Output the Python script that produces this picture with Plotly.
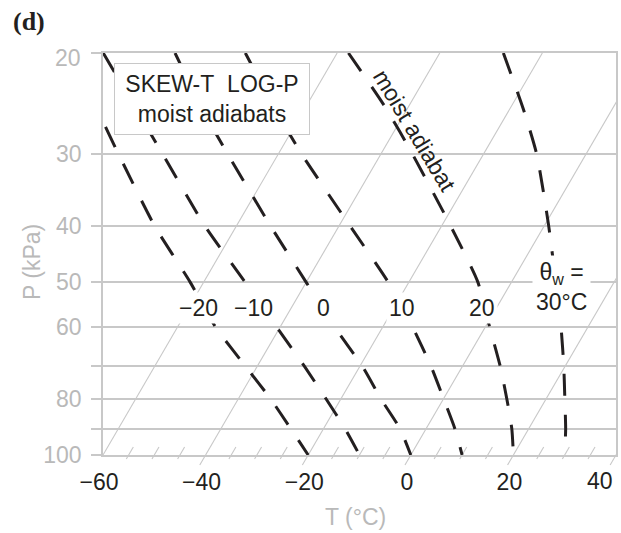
import numpy as np
import plotly.graph_objects as go

# Pressure levels (kPa) at which the moist adiabats are tabulated, top to bottom
P_LEVELS = [20, 25, 30, 40, 50, 60, 70, 80, 90, 100]

# Wet-bulb potential temperature of each moist adiabat (degC)
THETA_W = [-20, -10, 0, 10, 20, 30]

# Temperature (degC) along each moist adiabat at P_LEVELS
T_M20 = [-112.0, -100.5, -91.1, -75.9, -62.7, -52.5, -42.4, -33.6, -26.4, -20.0]
T_M10 = [-105.6, -92.9, -82.5, -66.1, -52.0, -40.6, -30.9, -22.8, -15.8, -10.0]
T_0 = [-91.6, -80.0, -69.8, -53.3, -40.1, -29.3, -19.6, -12.1, -5.1, 0.0]
T_10 = [-77.9, -65.8, -55.4, -37.8, -24.1, -14.1, -6.2, 0.1, 5.6, 10.0]
T_20 = [-57.8, -44.1, -33.8, -18.2, -6.6, 0.9, 7.3, 12.4, 16.7, 20.0]
T_30 = [-27.6, -17.4, -9.6, 0.9, 8.6, 14.8, 19.7, 23.7, 27.2, 30.0]
ADIABATS = [T_M20, T_M10, T_0, T_10, T_20, T_30]

# Isotherms and bottom-axis tick marks (degC)
ISOTHERMS = [-60, -40, -20, 0, 20, 40]
T_TICKTEXT = ["\u221260", "\u221240", "\u221220", "0", "20", ""]
MINOR_T = [t for t in range(-60, 41, 5) if t % 20 != 0]

# Isobars (kPa) and their labels
P_GRID = [20, 30, 40, 50, 60, 70, 80, 90, 100]
P_TICKTEXT = ["", "30", "40", "50", "60", "", "80", "", "100"]

# Skew of the temperature axis: degC shift per decade of pressure
SKEW = 65.3
P_BOTTOM, P_TOP = 100.0, 20.0

# Figure geometry
W, H = 621, 533
M_L, M_R, M_T, M_B = 103, 5, 53, 78
PLOT_W = W - M_L - M_R
PLOT_H = H - M_T - M_B

GRID = "#c8c8c8"
LABEL_GREY = "#b9b9b9"
INK = "#231f20"
FONT = "Arial, Liberation Sans, Helvetica, sans-serif"
FS = 23


def skew_x(t, p):
    """Horizontal coordinate of temperature t at pressure p on the skewed axis."""
    return np.asarray(t, float) + SKEW * np.log10(P_BOTTOM / np.asarray(p, float))


def px_to_paper(px, py):
    """Page pixel position -> paper coordinates of the plot area."""
    return (px - M_L) / PLOT_W, (PLOT_H - (py - M_T)) / PLOT_H


fig = go.Figure()

# Isotherms: straight gray lines slanting up to the right
for t in ISOTHERMS:
    fig.add_trace(go.Scatter(
        x=skew_x([t, t], [P_BOTTOM, P_TOP]), y=[P_BOTTOM, P_TOP],
        mode="lines", line=dict(color=GRID, width=1.1),
        hoverinfo="skip", showlegend=False))

# Moist adiabats, dashed
for tw, temps in zip(THETA_W, ADIABATS):
    fig.add_trace(go.Scatter(
        x=skew_x(temps, P_LEVELS), y=P_LEVELS,
        mode="lines", name=f"theta_w = {tw} C",
        line=dict(color=INK, width=3, dash="22px,19px", shape="spline", smoothing=0.6),
        showlegend=False))

# Slanted tick marks along the bottom axis
decades = np.log10(P_BOTTOM / P_TOP)
shapes = []
for t in ISOTHERMS:
    y0 = -10 / PLOT_H
    shapes.append(dict(type="line", xref="x", yref="paper",
                       x0=t + SKEW * decades * y0, y0=y0, x1=t, y1=0,
                       line=dict(color=GRID, width=1.1), layer="below"))
for t in MINOR_T:
    y0, y1 = -4 / PLOT_H, 8 / PLOT_H
    shapes.append(dict(type="line", xref="x", yref="paper",
                       x0=t + SKEW * decades * y0, y0=y0,
                       x1=t + SKEW * decades * y1, y1=y1,
                       line=dict(color=GRID, width=1.1), layer="below"))


def x_on(temps, p):
    """Skewed x of an adiabat at pressure p (interpolated in log-pressure)."""
    lp = np.log10(P_BOTTOM / np.array(P_LEVELS, float))[::-1]
    xs = skew_x(temps, P_LEVELS)[::-1]
    return float(np.interp(np.log10(P_BOTTOM / p), lp, xs))


annotations = []

# Adiabat labels
LABEL_P = 55.5
LABEL_SHIFT = [-6, -10, 1, 0, -3]
for tw, temps, dx in zip(THETA_W[:5], ADIABATS[:5], LABEL_SHIFT):
    txt = f"\u2212{abs(tw)}" if tw < 0 else str(tw)
    annotations.append(dict(
        x=x_on(temps, LABEL_P), y=np.log10(LABEL_P), xref="x", yref="y",
        text=txt, showarrow=False, xshift=dx,
        xanchor="center", yanchor="middle",
        font=dict(family=FONT, size=FS, color=INK),
        bgcolor="white", borderpad=2))

annotations.append(dict(
    x=x_on(T_30, 51.0), y=np.log10(51.0), xref="x", yref="y",
    text=f"\u03b8<sub>w</sub> =<br>{THETA_W[5]}\u00b0C", showarrow=False, xshift=5,
    xanchor="center", yanchor="middle",
    font=dict(family=FONT, size=FS, color=INK),
    bgcolor="white", borderpad=3))

# Rotated caption along the 20 degC adiabat
annotations.append(dict(
    x=x_on(T_20, 27.3), y=np.log10(27.3), xref="x", yref="y",
    text="moist adiabat", showarrow=False, textangle=59, xshift=16,
    xanchor="center", yanchor="middle",
    font=dict(family=FONT, size=FS, color=INK)))

# Title box
bx, by = px_to_paper(212, 99)
annotations.append(dict(
    x=bx, y=by, xref="paper", yref="paper", xanchor="center", yanchor="middle",
    text="SKEW-T\u00a0 LOG-P<br>moist adiabats", showarrow=False,
    width=186, height=62, borderpad=4, borderwidth=1, bordercolor=GRID,
    bgcolor="white", font=dict(family=FONT, size=FS, color=INK)))

# Top pressure label sits just below its isobar
annotations.append(dict(
    x=0, y=np.log10(P_GRID[0]), xref="paper", yref="y",
    text=str(P_GRID[0]), showarrow=False, xanchor="right", yanchor="middle",
    xshift=-20, yshift=-5, font=dict(family=FONT, size=FS, color=LABEL_GREY)))

# Right-most temperature label, kept inside the page
annotations.append(dict(
    x=ISOTHERMS[-1], y=0, xref="x", yref="paper",
    text=str(ISOTHERMS[-1]), showarrow=False, xanchor="right", yanchor="top",
    xshift=-1, yshift=-11, font=dict(family=FONT, size=FS, color=INK)))

# Axis titles
tx, ty = px_to_paper(355, 517)
annotations.append(dict(
    x=tx, y=ty, xref="paper", yref="paper", xanchor="center", yanchor="middle",
    text="T (\u00b0C)", showarrow=False,
    font=dict(family=FONT, size=FS, color=LABEL_GREY)))
px_, py_ = px_to_paper(32, 262)
annotations.append(dict(
    x=px_, y=py_, xref="paper", yref="paper", xanchor="center", yanchor="middle",
    text="P (kPa)", showarrow=False, textangle=-90,
    font=dict(family=FONT, size=FS, color=LABEL_GREY)))

# Panel letter
dx_, dy_ = px_to_paper(29, 22)
annotations.append(dict(
    x=dx_, y=dy_, xref="paper", yref="paper", xanchor="center", yanchor="middle",
    text="<b>(d)</b>", showarrow=False,
    font=dict(family="Liberation Serif, DejaVu Serif, serif", size=26, color=INK)))

fig.update_layout(
    width=W, height=H, autosize=False,
    margin=dict(l=M_L, r=M_R, t=M_T, b=M_B, pad=0, autoexpand=False),
    paper_bgcolor="white", plot_bgcolor="white",
    shapes=shapes, annotations=annotations,
    xaxis=dict(
        range=[-60, 40], tickvals=ISOTHERMS, ticktext=T_TICKTEXT,
        ticks="", showgrid=False, zeroline=False, automargin=False,
        showline=True, mirror=True, linecolor=GRID, linewidth=1.5,
        tickfont=dict(family=FONT, size=FS, color=INK),
        ticklabelshift=-4, ticklabelstandoff=6),
    yaxis=dict(
        type="log", range=[np.log10(P_BOTTOM), np.log10(P_TOP)],
        tickvals=P_GRID, ticktext=P_TICKTEXT, automargin=False,
        ticks="outside", ticklen=10, tickwidth=1.5, tickcolor=GRID,
        showgrid=True, gridcolor=GRID, gridwidth=1.5, zeroline=False,
        showline=True, mirror=True, linecolor=GRID, linewidth=1.5,
        tickfont=dict(family=FONT, size=FS, color=LABEL_GREY),
        ticklabelstandoff=5),
)

fig.write_html("out.html")
